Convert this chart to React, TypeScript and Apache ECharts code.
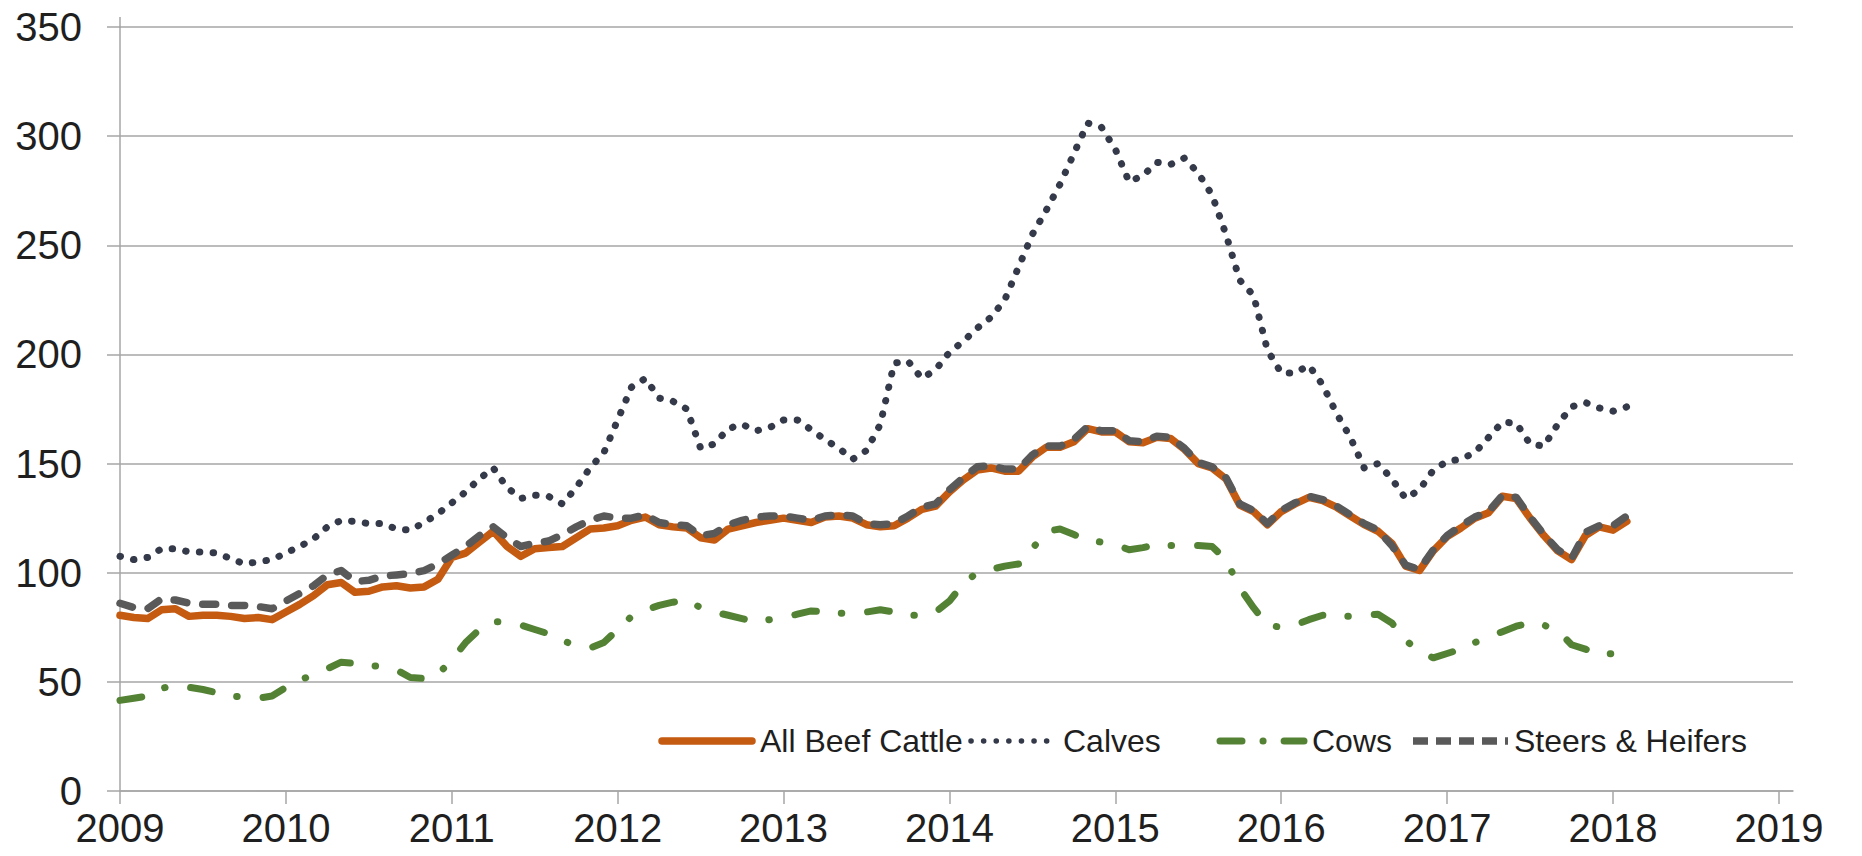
import React, { useEffect, useRef } from "react";
import * as echarts from "echarts";

const START_YEAR = 2009;
const yearTicks = [2009, 2010, 2011, 2012, 2013, 2014, 2015, 2016, 2017, 2018, 2019];
const seriesNames = ["All Beef Cattle", "Calves", "Cows", "Steers & Heifers"];

// Monthly values, Jan 2009 .. Feb 2018
const allBeefCattle = [
  80.5, 79.5, 79, 83, 83.5, 80, 80.5, 80.5, 80, 79, 79.5, 78.5,
  82, 85.5, 89.5, 94.5, 95.5, 91, 91.5, 93.5, 94, 93, 93.5, 97,
  107, 109, 114, 119, 112, 107.5, 111, 111.5, 112, 116, 120, 120.5,
  121.5, 124, 125.5, 122, 121, 120.5, 116, 115, 120, 121.5, 123, 124,
  125, 124, 123, 125.5, 126, 125, 122, 121, 121.5, 125, 129, 130.5,
  137, 142.5, 147, 148, 146.5, 146.5, 153, 157.5, 157.5, 160, 166, 164.5,
  164.5, 160, 159.5, 162, 161.5, 156.5, 150, 148, 143, 131, 128, 122,
  128, 131.5, 134.5, 133, 130, 126, 122, 119, 113.5, 103, 101, 110,
  116.5, 120.5, 125, 127.5, 135, 134, 125, 117, 110, 106, 117, 121, 119.5, 123.5,
];

const calves = [
  107.5, 106, 107, 111, 111, 109.5, 109.5, 109, 106.5, 104, 105, 106,
  109, 112, 115.5, 121, 124, 123.5, 122.5, 122.5, 120, 119.5, 123, 127,
  132, 137, 143, 148, 139, 134, 135.5, 135, 131.5, 139, 148, 155,
  170, 185, 189, 180, 178.5, 175, 157, 159, 166, 168, 165, 166.5,
  170, 170, 165.5, 161, 157, 152, 156, 168, 196, 197, 189, 193,
  201, 206, 212, 217, 225, 240, 255, 266, 278, 292, 306, 304,
  294, 279, 282, 288, 287, 290, 283, 273, 255, 234, 227, 202,
  191.5, 191.5, 195, 186, 173, 162, 148, 150, 143, 134, 138, 147,
  151, 152, 155, 162, 169, 168.5, 159, 158, 168, 176, 178, 175.5, 174, 176,
];

const cows = [
  41.5, 42.5, 43.5, 47, 48.5, 47.5, 46.5, 45, 43.5, 43, 42.5, 43.5,
  47.5, 51, 53, 56, 59, 58.5, 57.5, 57, 55.5, 52, 51.5, 53.5,
  60, 68, 74, 77.5, 77.5, 76, 74, 72, 69, 66.5, 65.5, 68,
  74, 80, 83, 85, 86.5, 87.5, 84, 82, 80.5, 79, 77.5, 78.5,
  79.5, 81, 82.5, 82, 81.5, 81, 82, 83, 82, 80.5, 80.5, 82,
  87, 95, 100, 101.5, 103, 104, 111, 119, 120, 117.5, 115, 114,
  113, 110.5, 111.5, 113, 112.5, 112.5, 112.5, 112, 106, 93, 84, 76,
  75, 76, 78.5, 80.5, 80, 80, 80.5, 81, 77, 69, 64, 61,
  63, 65, 68, 70.5, 73, 75.5, 77, 76, 73.5, 67, 65, 62.5, 63, 64,
];

const steersHeifers = [
  86, 84, 83.5, 88, 87.5, 86, 85.5, 85.5, 85, 85, 84.5, 83.5,
  87, 90.5, 94, 99, 101, 96, 96.5, 98.5, 99, 99.5, 101, 104,
  108, 112, 117, 121, 116, 112, 113.5, 114.5, 117.5, 121, 124, 126,
  125, 125, 126.5, 123, 122, 121.5, 117, 118, 122, 124, 125.5, 126,
  126, 125, 124, 126, 126.5, 126, 122.5, 122, 122.5, 126, 130, 131.5,
  138, 143.5, 148.5, 149, 147.5, 147.5, 154, 158, 158, 161, 167, 165,
  165, 160.5, 160, 162.5, 162, 157, 150.5, 148.5, 143.5, 131.5, 128.5, 122.5,
  128.5, 132, 135, 133.5, 130.5, 126.5, 122.5, 119.5, 112.5, 103.5, 101.5, 110.5,
  117, 121.5, 125.5, 128, 135.5, 134.5, 125.5, 117.5, 110.5, 106.5, 118.5, 121.5, 121.5, 126,
];

const toPoints = (values: number[]) =>
  values.map((v, i) => [START_YEAR + i / 12, v]);

const FONT = "'Liberation Sans', Arial, sans-serif";
const AXIS_GRAY = "#a6a6a6";
const TEXT_COLOR = "#1f1f1f";

const STYLES = [
  { color: "#C55A11", width: 7.5, dash: null as number[] | null, cap: "round" },
  { color: "#343a49", width: 7, dash: [0.5, 13.3], cap: "round" },
  { color: "#548235", width: 7, dash: [22, 25, 0.5, 26], cap: "round" },
  { color: "#595959", width: 7.5, dash: [13, 16], cap: "round" },
];

// manual legend (line sample + label)
const LEGEND_Y = 741;
const legendItems = [
  { x1: 662, x2: 752, tx: 760, dash: null as number[] | null, width: 7.5, cap: "round" },
  { x1: 971, x2: 1055, tx: 1063, dash: [0.1, 12.5], width: 5.5, cap: "round" },
  { x1: 1220, x2: 1304, tx: 1312, dash: [22, 21, 0.1, 21], width: 7, cap: "round" },
  { x1: 1413, x2: 1508, tx: 1514, dash: [15, 8], width: 7.5, cap: "butt" },
];

export default function App() {
  const ref = useRef<HTMLDivElement>(null);

  useEffect(() => {
    if (!ref.current) return;
    const chart = echarts.init(ref.current, undefined, { renderer: "svg" });

    const graphics: any[] = [];
    legendItems.forEach((it, i) => {
      graphics.push({
        type: "line",
        shape: { x1: it.x1, y1: LEGEND_Y, x2: it.x2, y2: LEGEND_Y },
        style: {
          stroke: STYLES[i].color,
          lineWidth: it.width,
          lineDash: it.dash || undefined,
          lineCap: it.cap,
        },
        z: 10,
      });
      graphics.push({
        type: "text",
        x: it.tx,
        y: LEGEND_Y,
        style: {
          text: seriesNames[i],
          fill: TEXT_COLOR,
          font: `32px ${FONT}`,
          verticalAlign: "middle",
          align: "left",
        },
        z: 10,
      });
    });
    // y axis line extends a little above the top gridline
    graphics.push({
      type: "line",
      shape: { x1: 120, y1: 17, x2: 120, y2: 28 },
      style: { stroke: AXIS_GRAY, lineWidth: 1.5 },
      z: 5,
    });

    chart.setOption({
      animation: false,
      backgroundColor: "#ffffff",
      textStyle: { fontFamily: FONT },
      grid: { left: 120, right: 69, top: 27, bottom: 65, containLabel: false },
      legend: { show: false, data: seriesNames },
      graphic: graphics,
      xAxis: {
        type: "value",
        min: 2009,
        max: 2019.085,
        interval: 1,
        axisLine: { show: true, lineStyle: { color: AXIS_GRAY, width: 1.5 } },
        axisTick: {
          show: true,
          length: 13,
          customValues: yearTicks,
          lineStyle: { color: AXIS_GRAY, width: 1.5 },
        },
        axisLabel: {
          customValues: yearTicks,
          fontSize: 40,
          margin: 17,
          color: TEXT_COLOR,
          fontFamily: FONT,
          formatter: (v: number) => String(Math.round(v)),
        },
        splitLine: { show: false },
      },
      yAxis: {
        type: "value",
        min: 0,
        max: 350,
        interval: 50,
        axisLine: { show: true, lineStyle: { color: AXIS_GRAY, width: 1.5 } },
        axisTick: { show: true, length: 13, lineStyle: { color: AXIS_GRAY, width: 1.5 } },
        axisLabel: { fontSize: 40, margin: 38, color: TEXT_COLOR, fontFamily: FONT },
        splitLine: { show: true, lineStyle: { color: AXIS_GRAY, width: 1.5 } },
      },
      series: [allBeefCattle, calves, cows, steersHeifers].map((vals, i) => ({
        name: seriesNames[i],
        type: "line",
        data: toPoints(vals),
        showSymbol: false,
        symbol: "none",
        color: STYLES[i].color,
        lineStyle: {
          color: STYLES[i].color,
          width: STYLES[i].width,
          type: STYLES[i].dash || "solid",
          cap: STYLES[i].cap,
          join: "round",
        },
      })),
    });
    return () => chart.dispose();
  }, []);

  return (
    <div
      ref={ref}
      style={{ position: "fixed", left: 0, top: 0, width: 1862, height: 856, background: "#fff" }}
    />
  );
}
